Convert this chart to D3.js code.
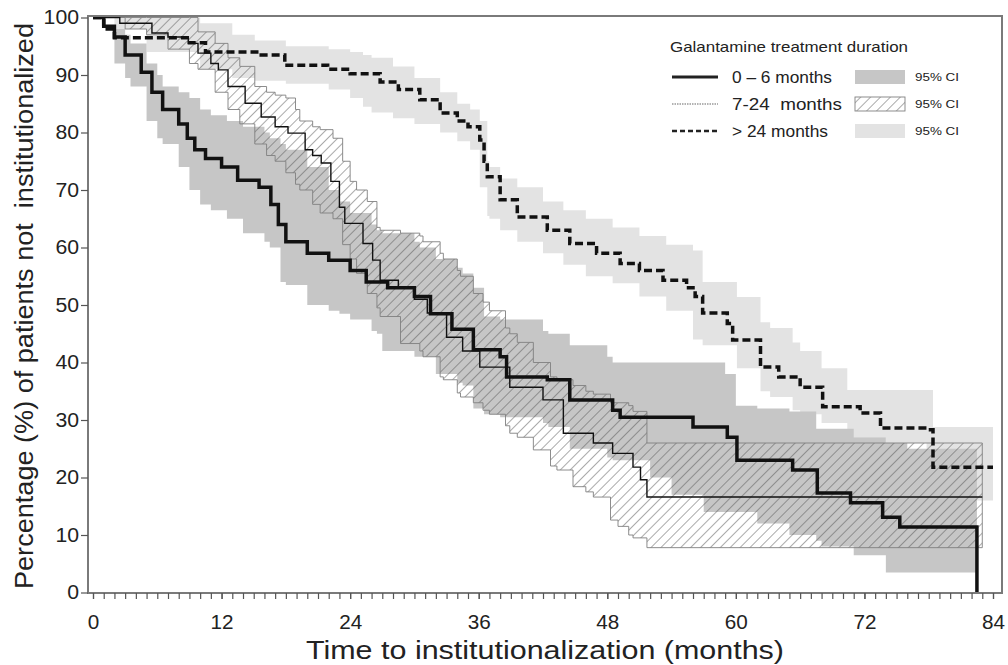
<!DOCTYPE html>
<html>
<head>
<meta charset="utf-8">
<script src="https://cdn.jsdelivr.net/npm/d3@7"></script>
<style>
  body { margin: 0; background: #fff; }
  text { font-family: "Liberation Sans", Arial, sans-serif; fill: #222; }
</style>
</head>
<body>
<div id="km_chart"></div>
<script>
// Kaplan-Meier curves, values (months, % not institutionalized)
const shortMonths = [0, 1, 2, 3, 4.5, 5.5, 6.5, 8, 8.8, 9.5, 10.5, 12, 13.5, 15.5, 16.6, 17.3, 18, 20, 22, 24, 25.5, 27.5, 30, 31.5, 33.5, 35.5, 38, 38.6, 42.4, 44.5, 48.5, 49.2, 56, 59.2, 60.1, 65.3, 67.6, 70.7, 73.7, 75.3, 82.5];
const shortSurv   = [100, 98.5, 96.6, 93.5, 90.5, 87, 84, 81.5, 79, 77, 75.5, 74, 71.7, 70.5, 67.5, 64, 61, 59, 57.8, 56, 54, 53, 51.5, 48.5, 45.8, 42.2, 41, 37.5, 37, 33.5, 31.7, 30.5, 28.8, 27, 23, 21.3, 17.3, 15.6, 13.1, 11.4, 0];

const midMonths = [0, 2.5, 5.5, 7, 8.9, 9.8, 11, 11.7, 12.6, 14.2, 15.7, 17, 18.2, 19.8, 20.5, 21.3, 22.2, 23, 23.5, 25.2, 26.1, 26.8, 28.5, 30, 31.2, 33, 34.5, 36.1, 38.9, 42, 43.9, 46.7, 48.5, 50.4, 51.1, 51.7, 83];
const midSurv   = [100, 99, 97.3, 96.6, 95.5, 93.8, 92, 90.9, 88, 85.1, 82.7, 81, 79.9, 77, 76, 74.7, 71.5, 67, 64.2, 60.7, 57.8, 54.3, 53, 51, 48.6, 44.4, 42, 39.2, 35.7, 33.5, 27.7, 26, 24.2, 21.8, 19.6, 16.6, 16.6];

const longMonths = [0, 1, 2, 9, 10.5, 15.7, 17.9, 21.9, 24, 26.8, 28.5, 30.5, 32.4, 34, 35, 36.1, 36.5, 36.8, 38, 39.6, 42.4, 44.5, 47, 49.2, 51, 53.2, 55.4, 56.2, 56.9, 59.2, 59.7, 62.3, 64, 66, 68.1, 71.6, 73.5, 77.8, 78.4, 84];
const longSurv   = [100, 98, 96.5, 95.6, 94, 93.5, 91.7, 91, 90.2, 88.8, 87.5, 85.7, 83.4, 82, 81, 78.7, 75, 72.3, 68.3, 65.3, 63, 60.7, 59, 57.2, 56, 54.3, 53, 51.5, 48.6, 46.8, 43.9, 39.2, 37.5, 35.7, 32.3, 31.2, 28.6, 28.3, 21.8, 21.8];

// 95% CI bands
const shortCiMonths = [0, 2, 3, 3.5, 5, 6, 6.5, 8, 9, 10, 11, 12.5, 14, 16, 16.5, 17.5, 18, 20, 22, 23, 24, 26, 26.5, 27, 30, 30.5, 32, 34, 34.5, 35.5, 36.5, 38, 42, 42.5, 44.5, 48, 48.5, 52, 54, 57, 59, 60, 62, 65, 67.5, 68, 71, 74, 76, 82.5];
const shortCiLow    = [100, 92, 89.5, 88, 82, 79, 78, 74, 70, 67.5, 66.5, 65, 62.5, 61, 60, 54, 53.5, 50, 49, 48.5, 47.5, 45.5, 45, 42, 41, 41, 38, 36.5, 36, 32, 31, 30.5, 29.5, 28.8, 25, 23.5, 23, 20, 17, 14, 14, 14, 12, 10, 9, 8, 6.5, 3.5, 3.5, 3.5];
const shortCiHigh   = [100, 98, 97, 95.5, 92, 90, 88, 87, 86, 84, 83, 82, 81, 80, 79, 78, 77, 74, 70, 68, 66, 64, 63, 62.5, 61, 60, 58, 56.5, 55.5, 53, 48, 47.5, 45.5, 45, 43, 41, 40, 40, 40, 40, 38, 32.5, 32, 31.5, 28.5, 28.5, 27, 26, 25, 25];

const midCiMonths = [0, 3, 5, 7, 9, 9.8, 11.4, 12.6, 13.7, 15.1, 16.2, 17, 18, 18.9, 19.3, 20.5, 21.2, 22.4, 23.3, 24, 24.6, 25.6, 26.5, 26.8, 28.7, 30.5, 30.8, 32.4, 32.7, 34, 34.3, 35.5, 36.4, 37, 38.5, 38.9, 39.6, 41.1, 42.7, 43.3, 44.8, 46, 46.7, 48.3, 49, 50, 50.4, 51.7, 83];
const midCiLow    = [100, 98, 97, 94.5, 92, 91, 87, 84, 81.5, 78, 76, 75, 73, 71, 70, 67.5, 66, 65, 60.5, 58, 55.5, 52, 49.5, 48, 43.3, 42, 41, 37.5, 37, 34.7, 34, 33, 31.7, 31, 29, 27.7, 27, 24.8, 22, 21.3, 18.4, 17.5, 16.6, 12.6, 11.5, 10, 9.5, 7.8, 7.8];
const midCiHigh   = [100, 100, 100, 100, 100, 97.5, 95.5, 93, 91.5, 88, 87, 86.5, 86, 84, 82, 81, 80.5, 79, 75, 71.5, 70, 68, 63.5, 63, 62.5, 62, 61, 59, 58, 56, 55, 52, 50.5, 49, 46, 45, 43.5, 40, 37.5, 37, 36, 35, 34.5, 33, 33, 32.5, 31.5, 26, 26];

const longCiMonths = [0, 2, 5, 10, 13, 15.1, 18, 22, 24, 25.2, 26, 28, 30, 32.4, 34, 35.2, 36.1, 36.8, 37, 38, 39.6, 42, 43.9, 46, 48.5, 51, 53.5, 56, 56.9, 60.1, 62.3, 63.2, 65.3, 66, 68, 70.4, 74, 77.8, 78.4, 82, 84];
const longCiLow    = [100, 98, 94, 91, 89.5, 89, 88.5, 87.5, 86, 84.5, 83.5, 82.5, 81.5, 80, 78.5, 77, 70.5, 65.5, 65, 63, 61, 59, 57, 55, 53.8, 51.5, 49, 44, 43, 39, 35, 34, 31.7, 31, 29.5, 27, 26, 25, 22, 16, 15.5];
const longCiHigh   = [100, 100, 100, 99, 97, 96, 95, 94.5, 94, 93.5, 93, 91.5, 89.5, 87, 85, 84, 82, 75, 74, 72, 70.5, 68, 66.5, 65, 63.5, 62, 60.5, 59.5, 54, 51.4, 47, 46, 43.5, 42, 39, 35.2, 35.2, 35.2, 28.8, 28.8, 28.8];

const xTickLabels = [0, 12, 24, 36, 48, 60, 72, 84];
const yTickLabels = [0, 10, 20, 30, 40, 50, 60, 70, 80, 90, 100];

const legendTitle = "Galantamine treatment duration";
const legendNames = ["0 \u2013 6 months", "7-24  months", "> 24 months"];

const width = 1008, height = 665;

const svg = d3.select("#km_chart")
    .append("svg")
    .attr("width", width)
    .attr("height", height);

// hatch for the 7-24 months CI
svg.append("defs")
    .append("pattern")
    .attr("id", "hatch")
    .attr("patternUnits", "userSpaceOnUse")
    .attr("width", 7)
    .attr("height", 7)
    .attr("patternTransform", "rotate(45)")
    .append("line")
        .attr("x1", 0).attr("y1", 0)
        .attr("x2", 0).attr("y2", 7)
        .attr("stroke", "#555")
        .attr("stroke-width", 1);

// scales
const x = d3.scaleLinear().domain([0, 84]).range([93, 993]);
const y = d3.scaleLinear().domain([0, 100]).range([592.5, 17.5]);

const frame = { left: 88, right: 1002, top: 16, bottom: 593 };

const band = (months, low, high) => d3.area()
    .curve(d3.curveStepAfter)
    .x((d, i) => x(months[i]))
    .y0((d, i) => y(low[i]))
    .y1((d, i) => y(high[i]))(months);

const curve = (months, surv) => d3.line()
    .curve(d3.curveStepAfter)
    .x((d, i) => x(months[i]))
    .y((d, i) => y(surv[i]))(months);

// CI bands
svg.append("path")
    .attr("d", band(longCiMonths, longCiLow, longCiHigh))
    .attr("fill", "#e3e3e3");

svg.append("path")
    .attr("d", band(shortCiMonths, shortCiLow, shortCiHigh))
    .attr("fill", "#c6c6c6");

svg.append("path")
    .attr("d", band(midCiMonths, midCiLow, midCiHigh))
    .attr("fill", "url(#hatch)")
    .attr("stroke", "#808080")
    .attr("stroke-width", 0.9);

// survival curves
svg.append("path")
    .attr("d", curve(longMonths, longSurv))
    .attr("fill", "none")
    .attr("stroke", "#111")
    .attr("stroke-width", 3.5)
    .attr("stroke-dasharray", "8,4");

svg.append("path")
    .attr("d", curve(midMonths, midSurv))
    .attr("fill", "none")
    .attr("stroke", "#111")
    .attr("stroke-width", 1.4);

svg.append("path")
    .attr("d", curve(shortMonths, shortSurv))
    .attr("fill", "none")
    .attr("stroke", "#111")
    .attr("stroke-width", 3.5);

// frame
svg.append("rect")
    .attr("x", frame.left)
    .attr("y", frame.top)
    .attr("width", frame.right - frame.left)
    .attr("height", frame.bottom - frame.top)
    .attr("fill", "none")
    .attr("stroke", "#7a7a7a")
    .attr("stroke-width", 2);

// x axis: monthly minor ticks, labels every 12
const xMinor = svg.append("g")
    .attr("transform", `translate(0, ${frame.bottom})`)
    .call(d3.axisBottom(x).tickValues(d3.range(0, 85)).tickSize(6).tickFormat(""));
xMinor.select(".domain").remove();
xMinor.selectAll("line").attr("stroke", "#555").attr("stroke-width", 1.2);

const xAxis = svg.append("g")
    .attr("transform", `translate(0, ${frame.bottom})`)
    .call(d3.axisBottom(x).tickValues(xTickLabels).tickSize(6).tickPadding(16));
xAxis.select(".domain").remove();
xAxis.selectAll("line").attr("stroke", "#555").attr("stroke-width", 1.2);
xAxis.selectAll("text")
    .style("font-size", "20px")
    .style("font-family", "Liberation Sans, Arial, sans-serif")
    .attr("fill", "#333")
    .attr("textLength", d => String(d).length * 11.5)
    .attr("lengthAdjust", "spacingAndGlyphs");

const yAxis = svg.append("g")
    .attr("transform", `translate(${frame.left}, 0)`)
    .call(d3.axisLeft(y).tickValues(yTickLabels).tickSize(7).tickPadding(2));
yAxis.select(".domain").remove();
yAxis.selectAll("line").attr("stroke", "#555").attr("stroke-width", 1.2);
yAxis.selectAll("text")
    .style("font-size", "20px")
    .style("font-family", "Liberation Sans, Arial, sans-serif")
    .attr("fill", "#333")
    .attr("textLength", d => String(d).length * 11.8)
    .attr("lengthAdjust", "spacingAndGlyphs");

// axis titles
svg.append("text")
    .attr("x", 545)
    .attr("y", 659)
    .attr("text-anchor", "middle")
    .style("font-size", "25px")
    .attr("textLength", 478)
    .attr("lengthAdjust", "spacingAndGlyphs")
    .text("Time to institutionalization (months)");

svg.append("text")
    .attr("transform", "translate(33, 306) rotate(-90)")
    .attr("text-anchor", "middle")
    .style("font-size", "25px")
    .style("white-space", "pre")
    .attr("textLength", 566)
    .attr("lengthAdjust", "spacingAndGlyphs")
    .text("Percentage (%) of patients not  institutionalized");

// legend
const legend = svg.append("g").attr("transform", "translate(670, 0)");

legend.append("text")
    .attr("x", 0)
    .attr("y", 52)
    .style("font-size", "15px")
    .attr("textLength", 238)
    .attr("lengthAdjust", "spacingAndGlyphs")
    .text(legendTitle);

const rowY = [77, 104, 131];
const nameWidths = [100, 110, 96];
const lineStyles = [
    { stroke: "#222", width: 3, dash: null },
    { stroke: "#999", width: 1.5, dash: "1.5,1" },
    { stroke: "#222", width: 2.5, dash: "5,3" }
];

legendNames.forEach(function (name, i) {
    legend.append("line")
        .attr("x1", 2).attr("x2", 48)
        .attr("y1", rowY[i]).attr("y2", rowY[i])
        .attr("stroke", lineStyles[i].stroke)
        .attr("stroke-width", lineStyles[i].width)
        .attr("stroke-dasharray", lineStyles[i].dash);

    legend.append("text")
        .attr("x", 62)
        .attr("y", rowY[i] + 6)
        .style("font-size", "17px")
        .style("white-space", "pre")
        .attr("textLength", nameWidths[i])
        .attr("lengthAdjust", "spacingAndGlyphs")
        .text(name);

    legend.append("rect")
        .attr("x", 185)
        .attr("y", rowY[i] - 7)
        .attr("width", 50)
        .attr("height", 14)
        .attr("fill", i === 0 ? "#c6c6c6" : i === 1 ? "url(#hatch)" : "#e3e3e3")
        .attr("stroke", i === 1 ? "#808080" : "none")
        .attr("stroke-width", 0.9);

    legend.append("text")
        .attr("x", 245)
        .attr("y", rowY[i] + 4)
        .style("font-size", "11.5px")
        .attr("textLength", 44)
        .attr("lengthAdjust", "spacingAndGlyphs")
        .text("95% CI");
});
</script>
</body>
</html>
